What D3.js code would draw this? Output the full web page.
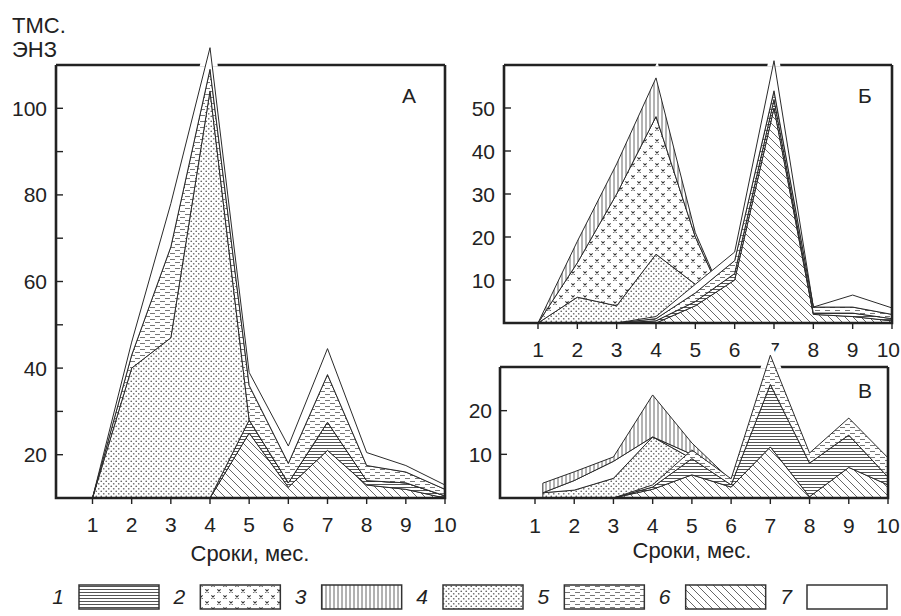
<!DOCTYPE html>
<html><head><meta charset="utf-8">
<script src="https://cdn.jsdelivr.net/npm/d3@7"></script>
<style>
body{margin:0;background:#fff}
svg{display:block}
text{font-family:"Liberation Sans",Arial,Helvetica,sans-serif;fill:#222}
</style>
</head><body>
<svg id="c" width="901" height="616"></svg>
<script>
// ---------- DATA ----------
const months  = [1, 2, 3, 4, 5, 6, 7, 8, 9, 10];
const monthsV = [1.2, 2, 3, 4, 5, 6, 7, 8, 9, 10];
const xTickLabels = ["1","2","3","4","5","6","7","8","9","10"];
const legendLabels = ["1","2","3","4","5","6","7"];
const panelLetters = ["А","Б","В"];
const yTitle = ["ТМС.","ЭНЗ"];
const xTitle = "Сроки, мес.";

// Panel A (axis starts at 10); layer thicknesses, bottom to top
const aBase  = 10;
const aDiag  = [0, 0, 0, 0, 15, 2.5, 11, 3, 2, 0];     // 6
const aHoriz = [0, 0, 0, 0, 3, 1, 6.5, 1, 1.5, 0.5];   // 1
const aDots  = [0, 30, 37, 94, 0, 0, 0, 0, 0, 0];      // 4
const aDash  = [0, 3, 21, 5, 8, 4.5, 11, 3.5, 2.5, 1.5]; // 5
const aWhite = [0, 3, 10, 5, 3, 4, 6, 3, 1.5, 1];      // 7
const yTicksA  = [20, 30, 40, 50, 60, 70, 80, 90, 100];
const yLabelsA = [20, 40, 60, 80, 100];

// Panel Б: left hump
const bDots  = [0, 6, 4, 16, 9, 0, 0, 0, 0, 0];        // 4
const bCross = [0, 8, 26, 32, 11, 0, 0, 0, 0, 0];      // 2
const bVert  = [0, 5, 7, 9, 1, 0, 0, 0, 0, 0];         // 3
// Panel Б: right hump
const bDiag  = [0, 0, 0, 0, 4, 10, 50, 2, 1.5, 0.5];   // 6
const bHoriz = [0, 0, 0, 0.5, 1, 1.5, 2, 0.3, 0.8, 0.5]; // 1
const bDash  = [0, 0, 0, 0.5, 2, 3, 2, 1.4, 1.4, 1];   // 5
const bWhite = [0, 0, 0, 0.5, 2, 2, 7, 0, 2.8, 1.5];   // 7
const yTicksB = [10, 20, 30, 40, 50];

// Panel В: left hump
const vDots  = [1.2, 1.8, 4.5, 14, 9, 2, 0, 0, 0, 0];  // 4
const vWhite = [0, 2.2, 3.9, 0, 1, 1, 0, 0, 0, 0];     // 7
const vVert  = [2.2, 2, 1, 9.6, 2.6, 1, 0, 0, 0, 0];   // 3
// Panel В: right part
const vDiag  = [0, 0, 0, 2, 5.3, 2.5, 11.7, 0.3, 7, 3];   // 6
const vHoriz = [0, 0, 0, 0.5, 3.7, 0.5, 14.3, 7.7, 7.4, 1.8]; // 1
const vDash  = [0, 0, 0, 0.5, 2, 1.4, 6.7, 2.3, 3.9, 4.4];  // 5
const yTicksV = [10, 20];

// ---------- DRAW ----------
const svg = d3.select("#c");
const defs = svg.append("defs");
function pat(id, w, h, draw) {
  const p = defs.append("pattern").attr("id", id)
    .attr("patternUnits", "userSpaceOnUse").attr("width", w).attr("height", h);
  p.append("rect").attr("width", w).attr("height", h).attr("fill", "#fff");
  draw(p);
}
pat("p1", 6, 3, p => p.append("path").attr("d", "M0,1.5H6").attr("stroke", "#555").attr("stroke-width", 1));
pat("p2", 12, 12, p => {
  [[3, 3], [9, 9]].forEach(([cx, cy]) => p.append("path")
    .attr("d", `M${cx-1.6},${cy-1.6}L${cx+1.6},${cy+1.6}M${cx-1.6},${cy+1.6}L${cx+1.6},${cy-1.6}`)
    .attr("stroke", "#333").attr("stroke-width", 1.1));
});
pat("p3", 4, 4, p => p.append("path").attr("d", "M2,0V4").attr("stroke", "#555").attr("stroke-width", 0.9));
pat("p4", 5, 5, p => {
  p.append("circle").attr("cx", 1.25).attr("cy", 1.25).attr("r", 0.85).attr("fill", "#666");
  p.append("circle").attr("cx", 3.75).attr("cy", 3.75).attr("r", 0.85).attr("fill", "#666");
});
pat("p5", 10, 6, p => p.append("path").attr("d", "M0,1.5H5M5,4.5H10").attr("stroke", "#777").attr("stroke-width", 1));
pat("p6", 8, 8, p => p.append("path").attr("d", "M0,0L8,8M-2,6L2,10M6,-2L10,2").attr("stroke", "#555").attr("stroke-width", 0.9));
pat("p7", 4, 4, p => {});

function stackGroup(xs, series) {
  const rows = xs.map((m, i) => { const r = { _m: m }; series.forEach(s => r[s.key] = s.values[i]); return r; });
  const st = d3.stack().keys(series.map(s => s.key))(rows);
  return st.map((layer, j) => ({ pat: series[j].pat, pts: layer }));
}

const panels = [
  { xs: months, xRange: [92.5, 445], frameL: 56, frameR: 445, yDom: [10, 110], yRange: [498, 65], base: aBase,
    groups: [[{key:"kd",pat:"p6",values:aDiag},{key:"kh",pat:"p1",values:aHoriz},{key:"ko",pat:"p4",values:aDots},
              {key:"ks",pat:"p5",values:aDash},{key:"kw",pat:"p7",values:aWhite}]],
    yTicks: yTicksA, yLabels: yLabelsA, labelRight: 47, xLabelY: 532, letter: panelLetters[0], letterPos: [409, 103] },
  { xs: months, xRange: [538, 892], frameL: 504, frameR: 892, yDom: [0, 60], yRange: [323, 65], base: 0,
    groups: [[{key:"ko",pat:"p4",values:bDots},{key:"kx",pat:"p2",values:bCross},{key:"kv",pat:"p3",values:bVert}],
             [{key:"kd",pat:"p6",values:bDiag},{key:"kh",pat:"p1",values:bHoriz},{key:"ks",pat:"p5",values:bDash},{key:"kw",pat:"p7",values:bWhite}]],
    yTicks: yTicksB, yLabels: yTicksB, labelRight: 495, xLabelY: 357, letter: panelLetters[1], letterPos: [865, 103] },
  { xs: monthsV, xRange: [535, 888], frameL: 500, frameR: 888, yDom: [0, 30], yRange: [498, 367], base: 0,
    groups: [[{key:"ko",pat:"p4",values:vDots},{key:"kw",pat:"p7",values:vWhite},{key:"kv",pat:"p3",values:vVert}],
             [{key:"kd",pat:"p6",values:vDiag},{key:"kh",pat:"p1",values:vHoriz},{key:"ks",pat:"p5",values:vDash}]],
    yTicks: yTicksV, yLabels: yTicksV, labelRight: 492, xLabelY: 533, letter: panelLetters[2], letterPos: [865, 398] }
];

const FS = 21;
const FRAME_W = 2.6;
panels.forEach((P, pi) => {
  const g = svg.append("g");
  const x = d3.scaleLinear().domain([1, 10]).range(P.xRange);
  const y = d3.scaleLinear().domain(P.yDom).range(P.yRange);
  const top = P.yRange[1], bot = P.yRange[0];
  const stacks = P.groups.map(gr => stackGroup(P.xs, gr));
  const area = d3.area().x(d => x(d.data._m)).y0(d => y(P.base + d[0])).y1(d => y(P.base + d[1]));
  const env = d3.area().x(d => x(d.data._m)).y0(y(P.base)).y1(d => y(P.base + d[1]));

  g.append("line").attr("x1", P.frameL).attr("x2", P.frameR).attr("y1", top).attr("y2", top)
    .attr("stroke", "#222").attr("stroke-width", FRAME_W);
  const cid = "clip" + pi;
  defs.append("clipPath").attr("id", cid).append("rect")
    .attr("x", P.frameL).attr("y", 0).attr("width", P.frameR - P.frameL).attr("height", top + 1.5);
  const halo = g.append("g").attr("clip-path", `url(#${cid})`);
  stacks.forEach(st => {
    const last = st[st.length - 1];
    halo.append("path").attr("d", env(last.pts)).attr("fill", "#fff").attr("stroke", "#fff").attr("stroke-width", 11);
  });
  stacks.forEach(st => st.forEach(L => {
    g.append("path").attr("d", area(L.pts)).attr("fill", `url(#${L.pat})`)
      .attr("stroke", "#2a2a2a").attr("stroke-width", 1).attr("stroke-linejoin", "round");
  }));
  g.append("path").attr("d", `M${P.frameL},${top}V${bot}H${P.frameR}V${top}`)
    .attr("fill", "none").attr("stroke", "#222").attr("stroke-width", FRAME_W);
  P.yTicks.forEach(t => g.append("line").attr("x1", P.frameL).attr("x2", P.frameL + 7)
    .attr("y1", y(t)).attr("y2", y(t)).attr("stroke", "#222").attr("stroke-width", 1.4));
  P.yLabels.forEach(t => g.append("text").attr("x", P.labelRight).attr("y", y(t)).attr("dy", "0.36em")
    .attr("text-anchor", "end").attr("font-size", FS).text(t));
  months.forEach((m, i) => {
    g.append("line").attr("x1", x(m)).attr("x2", x(m)).attr("y1", bot).attr("y2", bot + 6)
      .attr("stroke", "#222").attr("stroke-width", 1.4);
    const t = g.append("text").attr("y", P.xLabelY).attr("font-size", FS).text(xTickLabels[i]);
    if (x(m) + 12 > 900) t.attr("x", 900).attr("text-anchor", "end");
    else t.attr("x", x(m)).attr("text-anchor", "middle");
  });
  g.append("text").attr("x", P.letterPos[0]).attr("y", P.letterPos[1]).attr("text-anchor", "middle")
    .attr("font-size", FS).text(P.letter);
});

svg.append("text").attr("x", 12).attr("y", 33).attr("font-size", 22).text(yTitle[0]);
svg.append("text").attr("x", 12).attr("y", 57).attr("font-size", 22).text(yTitle[1]);
svg.append("text").attr("x", 250).attr("y", 561).attr("text-anchor", "middle").attr("font-size", 22).text(xTitle);
svg.append("text").attr("x", 692).attr("y", 558).attr("text-anchor", "middle").attr("font-size", 22).text(xTitle);

const legendPats = ["p1","p2","p3","p4","p5","p6","p7"];
const lx = d3.scaleLinear().domain([0, 6]).range([79, 807]);
legendLabels.forEach((lab, i) => {
  svg.append("text").attr("x", lx(i) - 21).attr("y", 604).attr("text-anchor", "middle")
    .attr("font-size", FS).attr("font-style", "italic").text(lab);
  svg.append("rect").attr("x", lx(i)).attr("y", 585).attr("width", 80).attr("height", 24)
    .attr("fill", `url(#${legendPats[i]})`).attr("stroke", "#333").attr("stroke-width", 1.5);
});
</script>
</body></html>
